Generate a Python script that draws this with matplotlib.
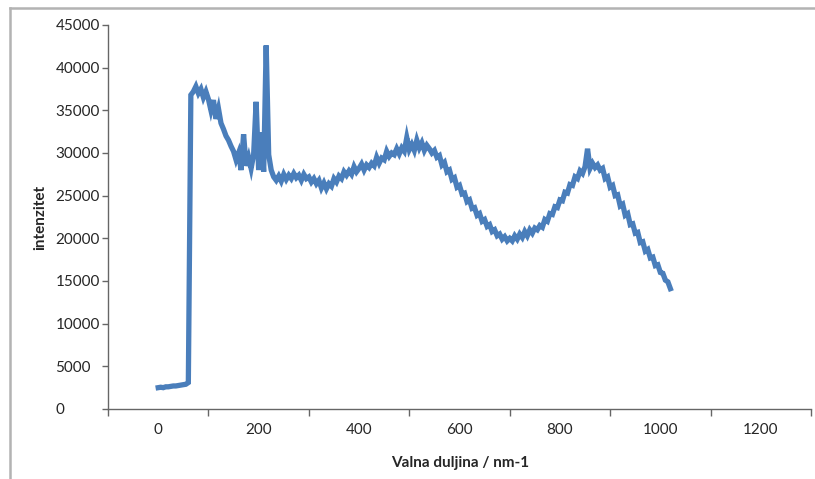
import matplotlib
matplotlib.use("Agg")
import matplotlib.pyplot as plt
from matplotlib.lines import Line2D
from matplotlib.ticker import FixedLocator, NullFormatter, FixedFormatter

plt.rcParams['font.family'] = ['Lato', 'DejaVu Sans']

wavelength = list(range(0, 1025, 5))
intensity = [
    2500, 2550, 2500, 2600, 2600, 2650, 2700, 2700, 2750, 2800,
    2850, 2900, 3100, 36800, 37200, 37800, 37000, 37500, 36500, 37200,
    36300, 35000, 36200, 34000, 35200, 33500, 32800, 32000, 31500, 30800,
    30200, 29200, 30000, 28000, 32200, 28500, 29500, 28200, 29800, 36000,
    28000, 32400, 27800, 42600, 29800, 28000, 27200, 26800, 27300, 26700,
    27500, 26900, 27400, 27000, 27600, 27100, 27400, 26800, 27500, 27000,
    27200, 26600, 27000, 26400, 26800, 25900, 26500, 25800, 26400, 26100,
    27000, 26600, 27300, 27000, 27800, 27400, 27900, 27500, 28400, 27800,
    28200, 28700, 28000, 28600, 28300, 28800, 28500, 29500, 28800, 29400,
    29200, 30200, 29600, 30000, 29800, 30500, 29900, 30600, 30200, 31800,
    30400, 31000, 30300, 31500, 30600, 31200, 30300, 30900, 30500, 30000,
    30300, 29500, 29700, 28600, 28900, 27800, 28000, 26900, 27100, 26000,
    26200, 25200, 25300, 24300, 24500, 23500, 23600, 22700, 22900, 22000,
    22200, 21400, 21600, 20800, 21000, 20300, 20500, 19900, 20200, 19700,
    20000, 19700, 20300, 19900, 20500, 20100, 20800, 20300, 21000, 20600,
    21200, 21000, 21500, 21300, 22200, 22000, 22900, 22800, 23700, 23600,
    24500, 24400, 25400, 25300, 26300, 26200, 27200, 27000, 27900, 27600,
    28400, 30500, 28200, 28800, 28300, 28600, 28000, 28200, 27000, 27200,
    26000, 26200, 25000, 25100, 23800, 24000, 22700, 22900, 21600, 21700,
    20600, 20700, 19500, 19600, 18500, 18700, 17700, 17800, 16800, 16900,
    16000, 15900, 15100, 14900, 14100,
]

x_label_values = [0, 200, 400, 600, 800, 1000, 1200]
x_tick_marks = [-100, 100, 300, 500, 700, 900, 1100, 1300]
y_ticks = [0, 5000, 10000, 15000, 20000, 25000, 30000, 35000, 40000, 45000]

W, H = 815, 479
fig = plt.figure(figsize=(W / 100, H / 100), dpi=100)
ax = fig.add_axes([108 / W, (H - 409) / H, (811 - 108) / W, (409 - 25) / H])

ax.plot(wavelength, intensity, color='#4a7ebb', lw=3.8, solid_joinstyle='miter')

ax.set_xlim(-100, 1300)
ax.set_ylim(0, 45000)

axis_col = '#666666'
text_col = '#262626'
for s in ['top', 'right']:
    ax.spines[s].set_visible(False)
for s in ['left', 'bottom']:
    ax.spines[s].set_color(axis_col)
    ax.spines[s].set_linewidth(1.0)

ax.xaxis.set_major_locator(FixedLocator(x_tick_marks))
ax.xaxis.set_major_formatter(NullFormatter())
ax.xaxis.set_minor_locator(FixedLocator(x_label_values))
ax.xaxis.set_minor_formatter(FixedFormatter([str(v) for v in x_label_values]))
ax.tick_params(axis='x', which='major', direction='out', length=5, width=1, color=axis_col)
ax.tick_params(axis='x', which='minor', length=0, pad=10, labelsize=11, labelcolor=text_col)

ax.set_yticks(y_ticks)
ax.set_yticklabels([str(v) for v in y_ticks])
ax.tick_params(axis='y', direction='out', length=4, width=1, color=axis_col,
               labelsize=11, labelcolor=text_col, pad=33.8)
for lab in ax.get_yticklabels():
    lab.set_ha('left')

fig.text(40 / W, 1 - 217 / H, 'intenzitet', rotation=90, ha='center', va='center',
         fontsize=11, fontweight='bold', color=text_col)
fig.text(460 / W, 1 - 463 / H, 'Valna duljina / nm-1', ha='center', va='center',
         fontsize=11, fontweight='bold', color=text_col)

# outer chart-area border (top and left visible)
fig.add_artist(Line2D([10 / W, 1.0], [1 - 8 / H, 1 - 8 / H], transform=fig.transFigure,
                      color='#b3b3b3', lw=1.8))
fig.add_artist(Line2D([10 / W, 10 / W], [0, 1 - 8 / H], transform=fig.transFigure,
                      color='#b3b3b3', lw=1.8))

fig.savefig('out.png', dpi=100)
